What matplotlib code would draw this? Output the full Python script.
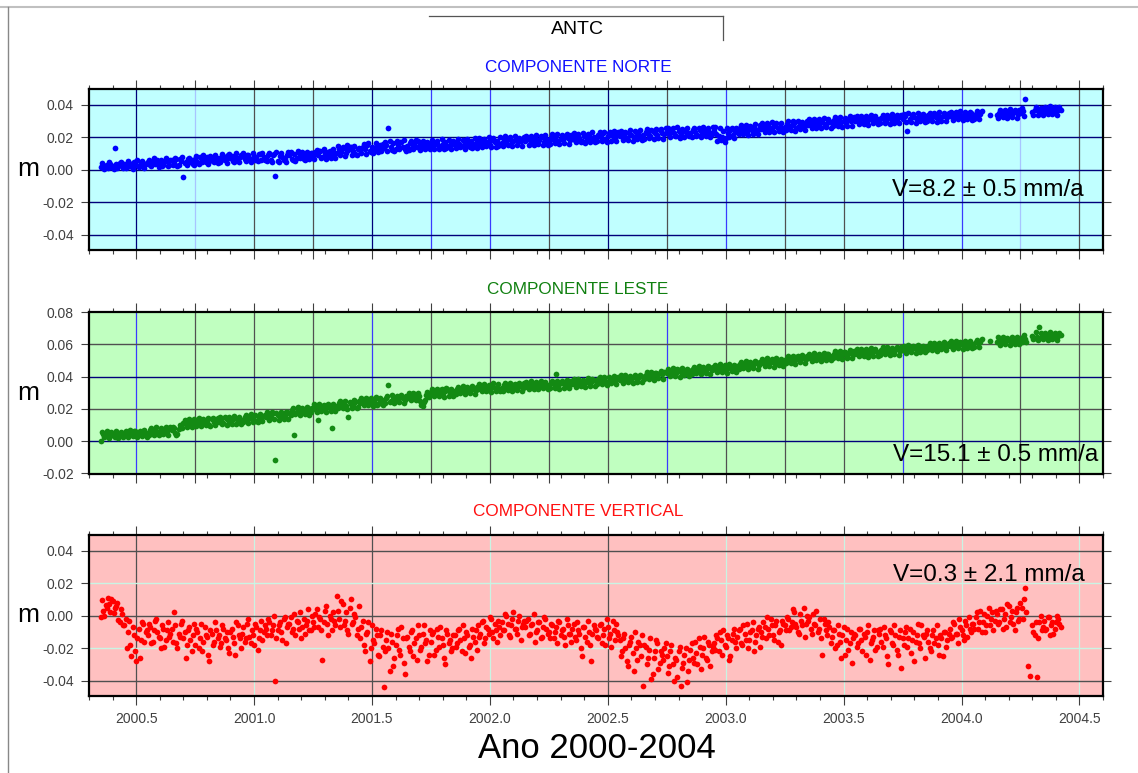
import numpy as np
import matplotlib
matplotlib.use("Agg")
import matplotlib.pyplot as plt
from matplotlib.ticker import MultipleLocator, FormatStrFormatter
from matplotlib.lines import Line2D

plt.rcParams['font.family'] = ['Liberation Sans', 'DejaVu Sans']

# ---------------- data ----------------
STATION = "ANTC"
EPOCH_START_A = 2000.35    # first epoch of the "a" samples (decimal year)
EPOCH_START_B = 2000.355   # first epoch of the "b" samples (decimal year)
EPOCH_STEP = 0.01          # sampling of the values below (decimal year)

# North component, mm
north_mm = [
    1.5, 3.0, 2.2, 0.8, 3.5, 2.0, 13.5, 1.2, 4.0, 2.5,
    3.5, 1.8, 4.2, 2.5, 5.0, 3.2, 1.5, 4.0, 2.8, 3.6,
    4.5, 2.8, 5.2, 3.5, 6.0, 4.2, 2.5, 4.8, 5.5, 3.0,
    5.8, 4.0, 6.5, 3.2, 5.5, -4.3, 4.5, 6.8, 5.0, 3.8,
    6.5, 5.0, 7.8, 4.5, 6.2, 8.0, 5.5, 7.0, 4.8, 6.8,
    7.5, 5.8, 8.5, 6.5, 9.0, 7.2, 5.5, 8.0, 6.8, 7.8,
    8.2, 6.5, 9.0, 7.0, 5.8, 8.5, 7.5, 9.5, 6.2, 8.0,
    7.0, 8.8, 6.2, 9.2, -3.7, 5.5, 8.5, 7.8, 6.8, 9.0,
    8.8, 6.5, 9.5, 7.5, 10.0, 8.2, 6.8, 9.0, 7.8, 10.5,
    8.5, 10.8, 9.2, 11.5, 7.8, 10.2, 9.0, 11.8, 8.8, 10.5,
    10.5, 12.5, 11.0, 13.5, 10.0, 12.2, 14.0, 11.5, 9.8, 12.8,
    12.0, 14.2, 12.8, 15.0, 11.5, 13.8, 12.5, 15.5, 13.0, 11.8,
    13.5, 15.5, 25.8, 14.0, 16.2, 13.0, 15.0, 17.0, 14.2, 12.8,
    14.5, 16.5, 13.2, 15.8, 14.0, 16.8, 15.2, 13.5, 15.5, 14.2,
    15.8, 14.0, 16.5, 15.0, 13.8, 16.0, 17.0, 14.5, 15.5, 16.2,
    15.2, 17.0, 16.0, 14.8, 17.5, 15.5, 16.8, 18.0, 15.0, 16.5,
    17.5, 15.8, 18.2, 16.5, 17.0, 15.5, 18.5, 16.8, 17.8, 16.0,
    16.5, 18.5, 17.2, 19.0, 16.0, 17.8, 18.8, 16.8, 17.5, 19.2,
    17.5, 19.0, 18.2, 16.8, 19.5, 17.8, 18.5, 20.0, 17.2, 18.8,
    18.0, 19.8, 18.5, 20.5, 17.5, 19.2, 18.8, 21.0, 19.5, 18.2,
    20.2, 18.5, 21.0, 19.5, 17.8, 20.5, 19.0, 21.5, 18.8, 20.0,
    19.5, 21.5, 20.0, 22.5, 19.0, 21.0, 23.5, 20.5, 19.8, 21.8,
    20.5, 22.5, 21.2, 19.8, 22.8, 21.5, 20.0, 23.0, 21.8, 20.8,
    21.5, 23.2, 22.0, 20.8, 23.8, 22.5, 21.2, 24.2, 22.8, 21.8,
    23.5, 21.8, 24.0, 22.5, 21.0, 23.8, 22.2, 24.5, 23.0, 21.5,
    22.5, 24.2, 23.0, 21.5, 24.5, 22.8, 23.8, 21.8, 23.5, 22.0,
    23.8, 22.0, 20.5, 18.5, 24.0, 19.8, 22.5, 24.5, 21.5, 23.2,
    23.5, 25.5, 24.0, 26.0, 23.0, 25.2, 24.5, 26.5, 23.8, 25.0,
    25.0, 26.8, 25.5, 27.5, 24.8, 26.2, 27.8, 25.5, 26.5, 24.5,
    26.5, 28.0, 26.0, 27.5, 28.5, 25.8, 27.2, 28.8, 26.8, 27.8,
    27.5, 29.2, 28.0, 30.0, 27.8, 28.8, 29.5, 27.2, 28.5, 30.2,
    29.0, 30.5, 28.8, 31.0, 29.5, 30.2, 28.5, 31.2, 29.8, 30.5,
    30.0, 31.5, 29.8, 31.8, 30.5, 29.5, 31.2, 32.0, 30.2, 31.0,
    30.8, 32.0, 31.5, 30.2, 32.5, 31.0, 32.2, 30.5, 31.8, 32.8,
    31.5, 32.8, 24.0, 31.0, 33.0, 32.2, 30.8, 32.5, 33.5, 31.8,
    32.0, 33.5, 31.8, 33.0, 32.5, 34.0, 31.5, 32.8, 33.5, 32.2,
    33.0, 34.0, 32.5, 33.8, 34.5, 32.8, 33.5, 34.2, 33.0, 34.8,
    33.5, 34.2, 33.0, 34.5, None, None, None, 33.8, None, None,
    34.0, 35.2, 33.8, 35.5, 34.5, 35.0, 33.5, 34.8, 35.8, 34.2,
    35.0, 36.0, 43.4, None, None, 35.8, 36.5, 37.2, 35.5, 36.8,
    36.0, 37.5, 35.8, 36.8, 37.2, 36.2, 37.0, 36.5,
]
north_mm_b = [
    4.2, 0.6, 3.0, 5.0, 1.5, 0.2, 3.8, 2.0, 4.8, 1.0,
    1.2, 5.2, 2.2, 0.5, 4.5, 6.0, 2.0, 5.5, 1.0, 4.2,
    6.2, 2.2, 7.0, 4.5, 1.8, 5.8, 3.0, 7.2, 2.5, 6.0,
    3.0, 7.5, 2.5, 6.5, 8.0, 4.0, 2.8, 7.0, 5.8, 3.2,
    8.5, 3.8, 7.2, 9.0, 4.5, 3.5, 8.2, 5.2, 9.2, 4.2,
    4.8, 9.5, 6.0, 4.2, 9.8, 8.5, 5.0, 10.0, 4.5, 8.8,
    10.2, 5.5, 9.2, 4.8, 10.5, 6.0, 5.2, 9.8, 10.5, 5.8,
    5.5, 10.5, 4.8, 9.5, 11.0, 5.0, 10.2, 6.0, 4.5, 10.8,
    11.0, 6.0, 5.5, 11.5, 7.0, 10.8, 5.8, 11.2, 6.5, 10.0,
    6.8, 12.2, 11.5, 7.2, 12.8, 6.5, 11.0, 7.5, 12.5, 7.0,
    14.5, 9.0, 13.8, 8.5, 15.0, 14.2, 9.2, 14.8, 8.8, 13.5,
    10.5, 15.8, 9.8, 16.2, 11.0, 10.2, 16.5, 10.8, 15.5, 16.0,
    17.2, 11.8, 18.0, 12.2, 11.5, 17.5, 12.5, 16.8, 18.2, 11.8,
    12.2, 17.8, 12.8, 18.2, 17.5, 12.0, 18.0, 12.5, 17.2, 12.8,
    18.5, 12.8, 17.8, 13.0, 18.8, 12.5, 13.2, 18.2, 12.8, 18.0,
    13.2, 19.0, 13.8, 18.5, 13.0, 19.2, 14.0, 13.5, 19.5, 13.2,
    19.8, 14.0, 19.2, 14.5, 20.0, 13.8, 19.5, 14.2, 14.8, 20.2,
    14.5, 20.5, 15.0, 20.0, 14.8, 20.8, 15.2, 19.8, 14.5, 20.2,
    21.0, 15.5, 20.8, 15.2, 21.5, 15.8, 20.5, 15.0, 21.2, 15.5,
    16.0, 21.8, 16.5, 22.0, 15.8, 21.5, 16.2, 22.2, 16.0, 21.2,
    22.5, 16.8, 22.0, 17.2, 22.8, 16.5, 22.2, 17.0, 23.0, 16.8,
    17.5, 23.2, 17.8, 23.5, 17.2, 22.8, 18.0, 23.8, 17.5, 23.0,
    24.0, 18.2, 23.5, 18.5, 24.2, 18.0, 23.8, 18.8, 24.5, 18.2,
    19.2, 25.0, 19.5, 24.5, 19.0, 25.2, 19.8, 24.8, 19.2, 25.5,
    25.8, 20.0, 25.5, 20.5, 26.2, 19.8, 25.2, 20.2, 26.0, 20.5,
    20.2, 26.0, 20.5, 25.8, 20.0, 26.5, 20.8, 25.5, 20.2, 26.2,
    26.2, 17.5, 25.5, 20.2, 17.2, 25.8, 20.0, 26.0, 19.5, 25.5,
    21.8, 27.5, 22.2, 27.8, 21.5, 27.2, 22.0, 28.0, 21.8, 27.5,
    28.8, 23.2, 28.5, 23.5, 29.2, 23.0, 28.8, 23.8, 29.0, 23.2,
    24.2, 30.0, 24.5, 29.8, 24.0, 30.2, 24.8, 29.5, 24.2, 30.0,
    31.2, 25.8, 31.5, 26.0, 31.0, 25.5, 31.8, 26.2, 31.2, 25.8,
    26.8, 32.2, 27.0, 32.5, 26.5, 32.0, 27.2, 32.8, 26.8, 32.2,
    33.0, 28.0, 33.2, 28.2, 32.8, 27.8, 33.5, 28.5, 33.0, 28.0,
    28.5, 34.0, 28.8, 33.8, 28.2, 34.2, 29.0, 33.5, 28.5, 34.0,
    34.5, 29.2, 34.8, 29.5, 34.2, 29.0, 35.0, 29.8, 34.5, 29.2,
    29.8, 35.2, 30.0, 35.0, 29.5, 35.5, 30.2, 34.8, 29.8, 35.2,
    35.8, 30.8, 35.5, 31.0, 36.0, 30.5, 35.8, 31.2, 35.5, 30.8,
    31.5, 36.2, 31.2, 36.0, None, None, None, None, None, None,
    32.0, 37.0, 32.2, 36.8, 31.8, 37.2, 32.5, 36.5, 32.0, 37.0,
    37.8, 33.0, None, None, None, 33.5, 38.5, 34.0, 38.2, 33.8,
    38.8, 34.2, 39.0, 34.5, 38.5, 34.0, 38.8,
]

# East component, mm
east_mm = [
    0.0, 4.5, 3.2, 5.0, 3.8, 4.2, 2.8, 5.2, 3.5, 4.8,
    4.0, 5.5, 3.5, 4.8, 6.0, 3.8, 5.2, 4.2, 6.2, 4.5,
    5.2, 6.8, 4.8, 7.0, 5.5, 6.2, 7.5, 5.0, 6.5, 7.2,
    6.8, 8.0, 3.5, 7.5, 9.5, 11.0, 10.5, 12.5, 10.0, 11.8,
    11.0, 12.8, 10.5, 13.2, 11.5, 12.0, 10.2, 13.5, 11.8, 12.5,
    12.0, 13.8, 11.5, 14.2, 12.8, 11.2, 13.5, 14.5, 12.2, 13.0,
    13.2, 15.0, 12.8, 14.5, 13.5, 15.5, 12.5, 14.8, 14.0, 15.8,
    14.8, 16.5, 15.2, 17.5, -11.9, 16.0, 14.5, 17.0, 15.8, 18.0,
    17.5, 19.2, 3.7, 18.0, 20.0, 17.2, 19.5, 18.8, 20.5, 17.8,
    19.8, 21.2, 13.3, 20.5, 22.0, 19.5, 21.5, 20.2, 7.8, 21.8,
    21.8, 23.5, 22.0, 24.0, 21.5, 14.8, 23.0, 22.5, 24.5, 21.2,
    23.8, 25.5, 24.0, 26.0, 23.5, 25.2, 24.8, 22.5, 26.2, 24.2,
    25.5, 26.8, 34.5, 25.0, 27.2, 26.0, 24.8, 27.5, 26.5, 25.2,
    26.8, 28.5, 27.2, 29.0, 26.5, 27.8, 22.5, 24.0, 28.8, 27.5,
    30.5, 29.2, 31.0, 30.0, 31.5, 29.5, 30.8, 32.0, 29.8, 31.2,
    31.0, 32.5, 30.5, 32.0, 31.2, 33.0, 30.8, 31.8, 32.8, 31.5,
    32.2, 33.8, 32.5, 34.0, 31.8, 33.2, 34.5, 32.8, 33.5, 32.0,
    33.0, 34.5, 32.8, 34.0, 33.5, 35.0, 32.5, 33.8, 34.8, 33.2,
    33.8, 35.5, 34.0, 35.2, 33.5, 34.8, 36.0, 34.2, 35.5, 33.8,
    34.5, 36.0, 35.2, 41.4, 34.0, 35.8, 36.5, 34.8, 35.5, 36.2,
    35.5, 37.0, 36.2, 35.0, 37.5, 36.0, 37.2, 35.8, 36.8, 37.8,
    37.0, 38.2, 36.8, 38.5, 37.5, 36.5, 38.8, 37.2, 38.0, 39.0,
    38.0, 39.5, 38.2, 37.5, 39.8, 38.5, 40.0, 38.8, 39.2, 40.2,
    39.8, 41.2, 40.0, 41.8, 40.5, 42.0, 41.0, 42.5, 41.5, 43.0,
    42.0, 43.2, 41.8, 43.8, 42.5, 44.0, 42.8, 43.5, 42.2, 44.2,
    43.5, 44.8, 43.2, 45.0, 44.2, 45.5, 43.8, 44.5, 45.8, 44.0,
    44.5, 45.8, 44.2, 46.0, 45.5, 44.8, 46.5, 45.2, 46.8, 45.5,
    46.5, 47.8, 46.2, 48.0, 47.2, 48.5, 46.8, 47.5, 48.8, 47.0,
    48.2, 49.5, 48.0, 49.8, 48.8, 50.2, 48.5, 49.2, 50.5, 49.0,
    50.0, 51.2, 49.8, 51.5, 50.5, 52.0, 50.2, 51.0, 52.2, 50.8,
    51.5, 52.8, 51.2, 53.0, 52.0, 53.5, 51.8, 52.5, 53.8, 52.2,
    53.0, 54.2, 52.8, 54.5, 53.5, 55.0, 53.2, 54.0, 55.2, 53.8,
    54.2, 55.5, 54.0, 55.8, 54.8, 56.0, 54.5, 55.2, 56.2, 55.0,
    55.2, 56.5, 55.0, 56.8, 55.8, 57.0, 55.5, 56.2, 57.2, 56.0,
    56.5, 57.8, 56.2, 58.0, 57.0, 58.2, 56.8, 57.5, 58.5, 57.2,
    58.0, 59.2, 57.8, 59.5, 58.5, 59.8, 58.2, 59.0, 60.0, 58.8,
    59.0, 60.2, 58.8, 60.5, 59.5, 60.8, 59.2, 60.0, 61.0, 59.8,
    60.0, 61.2, 60.5, 61.5, None, None, None, 61.8, None, None,
    61.5, 62.8, 61.8, 63.0, 62.2, 62.5, 63.2, 61.8, 62.8, 63.5,
    63.0, 64.2, 63.5, None, None, 65.2, 63.8, 64.8, 70.8, 64.2,
    64.5, 65.8, 64.2, 65.5, 66.0, 64.8, 65.2, 65.8,
]
east_mm_b = [
    5.8, 2.5, 6.0, 2.2, 5.5, 3.0, 6.2, 2.0, 5.8, 2.8,
    6.5, 2.8, 6.8, 3.0, 6.2, 2.5, 6.5, 3.2, 7.0, 2.8,
    3.8, 8.2, 4.0, 8.5, 3.5, 8.0, 4.2, 8.8, 3.8, 8.5,
    9.0, 5.0, 4.2, 9.8, 8.0, 13.0, 8.8, 13.5, 9.0, 13.8,
    9.5, 14.0, 9.2, 13.8, 9.8, 14.5, 9.5, 14.2, 9.8, 14.0,
    15.0, 10.5, 15.2, 10.2, 14.8, 10.8, 15.5, 10.5, 15.0, 10.8,
    11.8, 16.2, 11.5, 16.5, 12.0, 16.0, 11.8, 16.8, 12.2, 16.2,
    17.8, 13.2, 18.0, 13.5, 17.5, 13.0, 18.2, 13.8, 17.8, 13.5,
    16.2, 20.8, 16.5, 21.0, 16.0, 20.5, 16.8, 21.2, 16.2, 20.8,
    22.8, 18.2, 23.0, 18.5, 22.5, 18.0, 23.2, 18.8, 22.8, 18.5,
    20.2, 24.8, 20.5, 25.0, 20.0, 24.5, 20.8, 25.2, 20.2, 24.8,
    26.8, 22.2, 27.0, 22.5, 26.5, 22.0, 27.2, 22.8, 26.8, 22.5,
    23.8, 28.2, 24.0, 28.5, 23.5, 28.0, 24.2, 28.8, 23.8, 28.2,
    29.8, 25.2, 30.0, 25.5, 29.5, 25.0, 21.5, 25.5, 30.2, 29.0,
    32.2, 27.8, 32.5, 28.0, 32.0, 27.5, 32.8, 28.2, 32.2, 28.0,
    29.2, 33.8, 29.5, 34.0, 29.0, 33.5, 29.8, 34.2, 29.2, 33.8,
    35.2, 30.8, 35.5, 31.0, 35.0, 30.5, 35.8, 31.2, 35.2, 31.0,
    31.2, 35.8, 31.5, 36.0, 31.0, 35.5, 31.8, 36.2, 31.2, 35.8,
    36.8, 32.2, 37.0, 32.5, 36.5, 32.0, 37.2, 32.8, 36.8, 32.5,
    32.8, 37.2, 33.0, 37.5, 32.5, 37.0, 33.2, 37.8, 32.8, 37.2,
    38.2, 33.8, 38.5, 34.0, 38.0, 33.5, 38.8, 34.2, 38.2, 34.0,
    35.2, 39.8, 35.5, 40.0, 35.0, 39.5, 35.8, 40.2, 35.2, 39.8,
    40.8, 36.2, 41.0, 36.5, 40.5, 36.0, 41.2, 36.8, 40.8, 36.5,
    38.2, 42.8, 38.5, 43.0, 38.0, 42.5, 38.8, 43.2, 38.2, 42.8,
    44.8, 40.2, 45.0, 40.5, 44.5, 40.0, 45.2, 40.8, 44.8, 40.5,
    41.8, 46.2, 42.0, 46.5, 41.5, 46.0, 42.2, 46.8, 41.8, 46.2,
    47.2, 42.8, 47.5, 43.0, 47.0, 42.5, 47.8, 43.2, 47.2, 43.0,
    44.8, 49.2, 45.0, 49.5, 44.5, 49.0, 45.2, 49.8, 44.8, 49.2,
    51.0, 46.5, 51.2, 46.8, 50.8, 46.2, 51.5, 47.0, 51.0, 46.8,
    48.2, 52.8, 48.5, 53.0, 48.0, 52.5, 48.8, 53.2, 48.2, 52.8,
    54.2, 49.8, 54.5, 50.0, 54.0, 49.5, 54.8, 50.2, 54.2, 50.0,
    51.2, 55.8, 51.5, 56.0, 51.0, 55.5, 51.8, 56.2, 51.2, 55.8,
    57.0, 52.5, 57.2, 52.8, 56.8, 52.2, 57.5, 53.0, 57.0, 52.8,
    53.5, 58.0, 53.8, 58.2, 53.2, 57.8, 54.0, 58.5, 53.5, 58.0,
    59.2, 54.8, 59.5, 55.0, 59.0, 54.5, 59.8, 55.2, 59.2, 55.0,
    56.2, 60.8, 56.5, 61.0, 56.0, 60.5, 56.8, 61.2, 56.2, 60.8,
    61.8, 57.2, 62.0, 57.5, 61.5, 57.0, 62.2, 57.8, 61.8, 57.5,
    58.2, 62.8, 58.5, 63.0, None, None, None, None, None, None,
    64.2, 59.8, 64.5, 60.0, 64.0, 59.5, 64.8, 60.2, 64.2, 60.0,
    61.2, 65.8, 61.5, None, None, 63.0, 67.5, 62.8, 67.0, 63.2,
    67.2, 62.8, 67.5, 63.0, 67.0, 62.5, 67.2,
]

# Vertical component, mm
up_mm = [
    -1.0, 3.0, 6.5, 11.0, 2.0, 9.0, 5.0, 8.0, -4.0, 1.0,
    -6.0, -20.0, -3.0, -25.0, -12.0, -28.0, -8.0, -15.0, -5.0, -10.0,
    -12.0, -7.0, -16.0, -3.0, -10.0, -14.0, -6.0, -19.0, -9.0, -13.0,
    -8.0, 2.0, -17.0, -11.0, -5.0, -14.0, -26.0, -9.0, -15.0, -12.0,
    -18.0, -10.0, -14.0, -22.0, -7.0, -13.0, -28.0, -11.0, -16.0, -9.0,
    -12.0, -17.0, -8.0, -15.0, -20.0, -10.0, -13.0, -24.0, -6.0, -14.0,
    -11.0, -16.0, -5.0, -13.0, -9.0, -18.0, -7.0, -14.0, -3.0, -10.0,
    -8.0, -2.0, -12.0, -6.0, -40.0, -9.0, -4.0, -15.0, -1.0, -7.0,
    -5.0, -10.0, 1.0, -3.0, -8.0, -14.0, -2.0, -6.0, 4.0, -9.0,
    -4.0, 1.0, -7.0, -2.0, -27.0, 3.0, -5.0, 0.0, -9.0, -3.0,
    12.0, -2.0, 9.0, -6.0, 2.0, -11.0, 10.0, -4.0, -1.0, -8.0,
    -14.0, -3.0, -22.0, -10.0, -28.0, -6.0, -17.0, -12.0, -25.0, -9.0,
    -44.0, -15.0, -20.0, -11.0, -31.0, -18.0, -8.0, -24.0, -14.0, -36.0,
    -13.0, -22.0, -9.0, -17.0, -27.0, -12.0, -19.0, -6.0, -15.0, -24.0,
    -16.0, -10.0, -21.0, -13.0, -7.0, -18.0, -30.0, -11.0, -15.0, -20.0,
    -12.0, -17.0, -8.0, -22.0, -14.0, -10.0, -19.0, -26.0, -13.0, -9.0,
    -6.0, -11.0, -3.0, -14.0, -8.0, -1.0, -10.0, -5.0, -16.0, -7.0,
    -4.0, -9.0, 0.0, -12.0, -6.0, 2.0, -8.0, -3.0, -15.0, -5.0,
    -7.0, -2.0, -11.0, -5.0, -16.0, -9.0, -4.0, -13.0, -1.0, -8.0,
    -10.0, -5.0, -14.0, -7.0, -3.0, -12.0, -8.0, -18.0, -6.0, -11.0,
    -8.0, -13.0, -4.0, -11.0, -25.0, -7.0, -16.0, -10.0, -28.0, -6.0,
    -9.0, -14.0, -5.0, -12.0, -18.0, -7.0, -11.0, -3.0, -15.0, -10.0,
    -15.0, -22.0, -11.0, -28.0, -18.0, -13.0, -34.0, -20.0, -16.0, -25.0,
    -43.0, -19.0, -26.0, -14.0, -36.0, -22.0, -17.0, -29.0, -24.0, -20.0,
    -25.0, -31.0, -18.0, -40.0, -27.0, -22.0, -43.0, -29.0, -20.0, -34.0,
    -21.0, -26.0, -16.0, -30.0, -19.0, -24.0, -13.0, -27.0, -18.0, -22.0,
    -17.0, -12.0, -22.0, -15.0, -9.0, -19.0, -14.0, -25.0, -11.0, -16.0,
    -13.0, -8.0, -18.0, -11.0, -5.0, -15.0, -9.0, -22.0, -12.0, -7.0,
    -10.0, -4.0, -14.0, -8.0, -2.0, -12.0, -6.0, -16.0, -9.0, -3.0,
    -6.0, -1.0, -9.0, -4.0, 2.0, -7.0, -11.0, -3.0, 5.0, -5.0,
    -3.0, -8.0, 1.0, -6.0, -10.0, -2.0, -24.0, -5.0, -12.0, -7.0,
    -13.0, -9.0, -18.0, -11.0, -26.0, -7.0, -15.0, -21.0, -10.0, -14.0,
    -12.0, -17.0, -8.0, -22.0, -13.0, -10.0, -27.0, -15.0, -9.0, -19.0,
    -11.0, -16.0, -7.0, -14.0, -30.0, -10.0, -18.0, -12.0, -24.0, -9.0,
    -14.0, -10.0, -19.0, -8.0, -15.0, -28.0, -12.0, -17.0, -6.0, -13.0,
    -11.0, -16.0, -22.0, -9.0, -14.0, -18.0, -12.0, -25.0, -10.0, -15.0,
    -8.0, -13.0, -5.0, -11.0, -2.0, -9.0, -15.0, -6.0, -1.0, -10.0,
    -5.0, -1.0, -8.0, 3.0, -4.0, -10.0, 0.0, -6.0, 2.0, -3.0,
    1.0, -4.0, 4.0, -2.0, -7.0, 6.0, -1.0, -5.0, 2.0, -3.0,
    8.0, -2.0, 17.0, -31.0, -37.0, -6.0, -12.0, -38.0, -4.0, -9.0,
    -3.0, -8.0, -1.0, -6.0, -11.0, -4.0, -2.0, -7.0,
]
up_mm_b = [
    9.5, 0.0, 4.5, 7.0, 10.0, 1.5, 6.0, -2.5, 4.0, -6.0,
    -2.0, -10.0, -18.0, -7.0, -22.0, -14.0, -26.0, -4.0, -16.0, -9.0,
    -5.0, -17.0, -9.0, -2.0, -13.0, -20.0, -8.0, -15.0, -4.0, -11.0,
    -16.0, -6.0, -20.0, -13.0, -3.0, -10.0, -18.0, -7.0, -22.0, -5.0,
    -8.0, -20.0, -5.0, -16.0, -12.0, -24.0, -9.0, -18.0, -4.0, -14.0,
    -19.0, -6.0, -14.0, -10.0, -23.0, -8.0, -17.0, -4.0, -12.0, -20.0,
    -7.0, -14.0, -2.0, -17.0, -12.0, -5.0, -21.0, -9.0, -15.0, -6.0,
    -12.0, -4.0, -9.0, 0.0, -14.0, -6.0, -10.0, -2.0, -17.0, -5.0,
    -1.0, -8.0, -12.0, -4.0, 2.0, -7.0, -11.0, -3.0, -9.0, 0.0,
    -7.0, 4.0, -1.0, -9.0, -4.0, 6.0, -12.0, -2.0, 2.0, -6.0,
    3.0, -7.0, 7.0, -3.0, -9.0, 5.0, -5.0, 1.0, -12.0, 6.0,
    -7.0, -18.0, -11.0, -4.0, -20.0, -15.0, -8.0, -24.0, -12.0, -19.0,
    -22.0, -10.0, -34.0, -16.0, -26.0, -12.0, -21.0, -7.0, -29.0, -14.0,
    -19.0, -10.0, -25.0, -14.0, -6.0, -21.0, -11.0, -17.0, -28.0, -9.0,
    -11.0, -24.0, -8.0, -19.0, -14.0, -26.0, -9.0, -17.0, -22.0, -12.0,
    -19.0, -9.0, -15.0, -6.0, -23.0, -12.0, -18.0, -8.0, -16.0, -21.0,
    -13.0, -4.0, -17.0, -7.0, -11.0, -2.0, -14.0, -9.0, -3.0, -12.0,
    -9.0, 1.0, -5.0, -13.0, -2.0, -8.0, -11.0, 0.0, -7.0, -3.0,
    -3.0, -12.0, -6.0, 1.0, -10.0, -4.0, -14.0, -7.0, -2.0, -11.0,
    -14.0, -6.0, -10.0, -17.0, -4.0, -9.0, -13.0, -2.0, -11.0, -16.0,
    -5.0, -15.0, -9.0, -20.0, -7.0, -13.0, -3.0, -18.0, -11.0, -8.0,
    -13.0, -6.0, -17.0, -8.0, -2.0, -14.0, -19.0, -9.0, -5.0, -12.0,
    -25.0, -14.0, -20.0, -31.0, -16.0, -23.0, -10.0, -27.0, -18.0, -12.0,
    -18.0, -30.0, -21.0, -39.0, -26.0, -15.0, -33.0, -22.0, -27.0, -17.0,
    -35.0, -22.0, -30.0, -26.0, -38.0, -19.0, -32.0, -24.0, -41.0, -27.0,
    -17.0, -29.0, -23.0, -14.0, -33.0, -20.0, -26.0, -16.0, -31.0, -19.0,
    -21.0, -14.0, -10.0, -24.0, -18.0, -12.0, -27.0, -15.0, -8.0, -20.0,
    -9.0, -17.0, -6.0, -15.0, -20.0, -10.0, -4.0, -16.0, -8.0, -19.0,
    -13.0, -7.0, -1.0, -12.0, -6.0, -15.0, -3.0, -10.0, -18.0, -5.0,
    -9.0, -2.0, -7.0, 4.0, -5.0, -10.0, 1.0, -6.0, -13.0, 0.0,
    -1.0, -11.0, -5.0, 3.0, -8.0, -14.0, -2.0, -9.0, -4.0, -17.0,
    -9.0, -20.0, -6.0, -16.0, -12.0, -24.0, -8.0, -17.0, -29.0, -11.0,
    -19.0, -8.0, -15.0, -11.0, -24.0, -6.0, -17.0, -13.0, -21.0, -9.0,
    -8.0, -19.0, -12.0, -25.0, -9.0, -17.0, -6.0, -21.0, -13.0, -32.0,
    -18.0, -7.0, -14.0, -23.0, -10.0, -16.0, -5.0, -20.0, -12.0, -26.0,
    -9.0, -20.0, -12.0, -17.0, -6.0, -24.0, -14.0, -10.0, -19.0, -11.0,
    -14.0, -4.0, -11.0, -17.0, -7.0, -12.0, -3.0, -13.0, -8.0, -5.0,
    -8.0, 2.0, -4.0, -10.0, 1.0, -6.0, 5.0, -2.0, -9.0, 3.0,
    -5.0, 4.0, -8.0, 1.0, 7.0, -4.0, 3.0, -9.0, 5.0, -2.0,
    5.0, 10.0, 2.0, None, None, -10.0, -4.0, -14.0, 0.0, -7.0,
    -9.0, -1.0, -12.0, -4.0, -8.0, 0.0, -5.0,
]

titles = ["COMPONENTE NORTE", "COMPONENTE LESTE", "COMPONENTE VERTICAL"]
velocity_labels = ["V=8.2 \u00b1 0.5 mm/a", "V=15.1 \u00b1 0.5 mm/a", "V=0.3 \u00b1 2.1 mm/a"]
xlabel_text = "Ano 2000-2004"
ylabel_text = "m"

# ---------------- styling ----------------
W, H = 1138, 773
fig = plt.figure(figsize=(W / 100, H / 100), dpi=100)


def fx(x):
    return x / W


def fy(y):
    return 1 - y / H


NAVY = '#00007a'
GRAY = '#505050'
BLUE = '#3a3aff'
LBLUE = '#a8c4ff'
LCYAN = '#c8f5e4'

panels = [
    dict(series=(north_mm, north_mm_b), box=(89, 89, 1103, 250), ylim=(-0.0494, 0.0497),
         yt=[-0.04, -0.02, 0.0, 0.02, 0.04], bg='#c0ffff', dot='#0000ff',
         tcolor='#1010ff', ty=67, vt=(1084, 190),
         gstep=0.25,
         vcol=[NAVY, LBLUE, GRAY, GRAY, NAVY, BLUE, BLUE, GRAY, NAVY, GRAY,
               BLUE, GRAY, GRAY, NAVY, BLUE, LBLUE, GRAY],
         hcol=[NAVY, NAVY, NAVY, NAVY, NAVY]),
    dict(series=(east_mm, east_mm_b), box=(89, 312, 1103, 474), ylim=(-0.0204, 0.08),
         yt=[-0.02, 0.0, 0.02, 0.04, 0.06, 0.08], bg='#c0ffc0', dot='#138a13',
         tcolor='#108010', ty=289, vt=(1098, 455),
         gstep=0.25,
         vcol=[BLUE, GRAY, GRAY, GRAY, BLUE, GRAY, GRAY, GRAY, GRAY, BLUE,
               GRAY, GRAY, GRAY, BLUE, GRAY, GRAY, GRAY],
         hcol=[None, NAVY, GRAY, NAVY, GRAY, None]),
    dict(series=(up_mm, up_mm_b), box=(89, 535, 1103, 696), ylim=(-0.0494, 0.0497),
         yt=[-0.04, -0.02, 0.0, 0.02, 0.04], bg='#ffc0c0', dot='#ff0000',
         tcolor='#ff1010', ty=512, vt=(1085, 575),
         gstep=0.5,
         vcol=[GRAY, LCYAN, GRAY, LCYAN, GRAY, LCYAN, LCYAN, LCYAN, LCYAN],
         hcol=[GRAY, LCYAN, GRAY, LCYAN, GRAY]),
]

XMIN, XMAX = 2000.3, 2004.6
TICK_COLOR = '#404040'

for k, p in enumerate(panels):
    x0, y0, x1, y1 = p['box']
    ax = fig.add_axes([fx(x0), fy(y1), fx(x1) - fx(x0), fy(y0) - fy(y1)])
    ax.set_facecolor(p['bg'])
    ax.set_xlim(XMIN, XMAX)
    ax.set_ylim(*p['ylim'])

    # grid lines (coloured individually like the original)
    gx = np.arange(2000.5, 2004.5001, p['gstep'])
    for xv, c in zip(gx, p['vcol']):
        ax.axvline(xv, color=c, lw=0.9, zorder=1.5)
    for yv, c in zip(p['yt'], p['hcol']):
        if c is not None:
            ax.axhline(yv, color=c, lw=1.0, zorder=1.5)

    for start, series in zip((EPOCH_START_A, EPOCH_START_B), p['series']):
        vals = np.array(series, dtype=float) / 1000.0
        t = start + EPOCH_STEP * np.arange(len(vals))
        ax.scatter(t, vals, s=17, color=p['dot'], linewidths=0, zorder=3)

    # ticks
    ax.xaxis.set_major_locator(MultipleLocator(p['gstep'] if k < 2 else 0.5))
    ax.xaxis.set_minor_locator(MultipleLocator(0.1))
    ax.set_yticks(p['yt'])
    ax.yaxis.set_major_formatter(FormatStrFormatter('%.2f'))
    ax.tick_params(axis='x', which='major', direction='out', length=6.5, width=0.8,
                   color=TICK_COLOR, top=True, bottom=True, labelsize=10,
                   labelcolor=TICK_COLOR, pad=5)
    ax.tick_params(axis='x', which='minor', direction='out', length=3.2, width=0.8,
                   color=TICK_COLOR, top=True, bottom=True)
    ax.tick_params(axis='y', which='major', direction='out', length=6, width=0.8,
                   color=TICK_COLOR, left=True, right=True, labelsize=10,
                   labelcolor=TICK_COLOR, pad=5)
    if k < 2:
        ax.tick_params(axis='x', labelbottom=False)
    else:
        ax.xaxis.set_major_formatter(FormatStrFormatter('%.1f'))

    for s in ax.spines.values():
        s.set_linewidth(1.6)
        s.set_color('black')
        s.set_zorder(4)

    # velocity label
    fig.text(fx(p['vt'][0]), fy(p['vt'][1]), velocity_labels[k], ha='right',
             va='center', fontsize=17.5, color='black', zorder=0.5)

    # component title
    fig.text(fx(578), fy(p['ty']), titles[k], ha='center', va='center',
             fontsize=12.3, color=p['tcolor'])
    # y label
    fig.text(fx(28), fy((y0 + y1) / 2), ylabel_text, ha='center', va='center',
             fontsize=19, color='black')

# x label
fig.text(fx(597), fy(748), xlabel_text, ha='center', va='center', fontsize=25,
         color='black')

# station title box
fig.text(fx(577), fy(29), STATION, ha='center', va='center', fontsize=14,
         color='black')
fig.add_artist(Line2D([fx(429), fx(723)], [fy(16), fy(16)], transform=fig.transFigure,
                      color='#555555', lw=0.9))
fig.add_artist(Line2D([fx(723), fx(723)], [fy(16), fy(40)], transform=fig.transFigure,
                      color='#555555', lw=0.9))

# outer frame
fig.add_artist(Line2D([0, 1], [fy(7), fy(7)], transform=fig.transFigure,
                      color='#c0c0c0', lw=1.5))
fig.add_artist(Line2D([fx(8), fx(8)], [fy(7), 0], transform=fig.transFigure,
                      color='#888888', lw=1.0))

fig.savefig('out.png', dpi=100)
